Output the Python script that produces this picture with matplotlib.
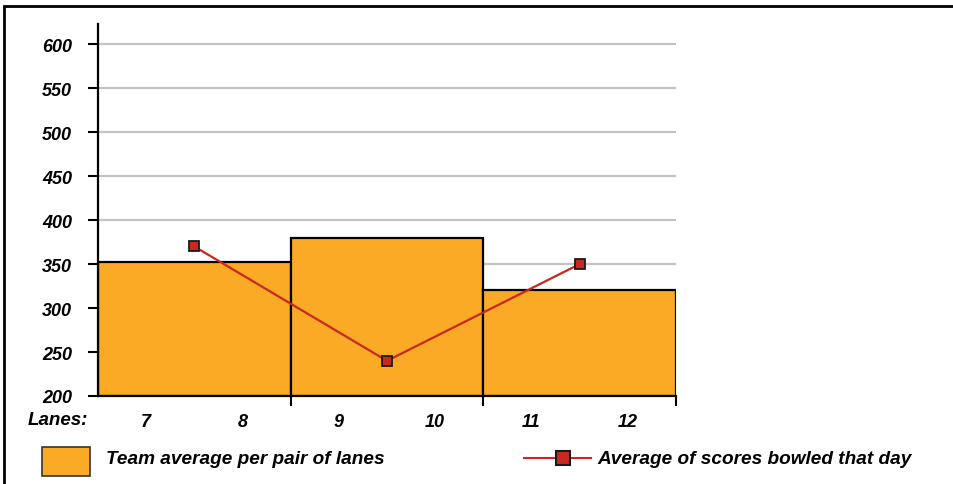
import matplotlib
matplotlib.use("Agg")
import matplotlib.pyplot as plt
from matplotlib.patches import Rectangle
from matplotlib.lines import Line2D
import numpy as np

plt.rcParams['font.family'] = ['Liberation Sans', 'DejaVu Sans']

lane_pairs = ["7-8", "9-10", "11-12"]
team_avg = [352, 380, 320]
day_avg = [370, 240, 350]
lane_labels = ["7", "8", "9", "10", "11", "12"]
y_ticks = [200, 250, 300, 350, 400, 450, 500, 550, 600]
bar_label = "Team average per pair of lanes"
line_label = "Average of scores bowled that day"

BAR_COLOR = "#FBAA25"
LINE_COLOR = "#C8281E"

W, H = 954, 485
fig = plt.figure(figsize=(W / 100, H / 100), dpi=100)
ax = fig.add_axes([98 / W, 1 - 397 / H, (676 - 98) / W, (397 - 25) / H])

x = np.arange(len(lane_pairs))
ax.bar(x, [v - 200 for v in team_avg], bottom=200, width=1.0, color=BAR_COLOR,
       edgecolor="black", linewidth=1.6, zorder=2)
ax.plot(x, day_avg, color=LINE_COLOR, linewidth=1.6, marker="s", markersize=7,
        markerfacecolor=LINE_COLOR, markeredgecolor="#1a1a1a", markeredgewidth=1.3, zorder=3)

ax.set_xlim(-0.5, 2.5)
ax.set_ylim(200, 623)

for yv in y_ticks[1:]:
    ax.axhline(yv, color="#C4C4C4", linewidth=1.6, zorder=1)

TICK_FS = 13
ax.set_yticks(y_ticks)
ax.set_yticklabels([str(v) for v in y_ticks], fontsize=TICK_FS, fontweight="bold", fontstyle="italic")
ax.tick_params(axis="y", length=7.5, width=1.5, pad=11)

ax.set_xticks([0.5, 1.5, 2.5])
ax.set_xticklabels([])
ax.tick_params(axis="x", which="major", length=7.5, width=1.5, direction="out")
label_pos = []
for i in range(len(lane_pairs)):
    label_pos += [i - 0.25, i + 0.25]
ax.set_xticks(label_pos, minor=True)
ax.set_xticklabels(lane_labels, minor=True, fontsize=TICK_FS, fontweight="bold", fontstyle="italic")
ax.tick_params(axis="x", which="minor", length=0, pad=12.5)

for s in ["top", "right"]:
    ax.spines[s].set_visible(False)
ax.spines["left"].set_linewidth(1.6)
ax.spines["bottom"].set_linewidth(1.6)
ax.spines["bottom"].set_zorder(4)

fig.text(88 / W, 1 - 421 / H, "Lanes:", ha="right", va="center", fontsize=13.5,
         fontweight="bold", fontstyle="italic")

# legend
LEG_FS = 13.7
fig.add_artist(Rectangle((42 / W, 1 - 477 / H), 48 / W, 29 / H, transform=fig.transFigure,
                         facecolor=BAR_COLOR, edgecolor="#333333", linewidth=1.2))
fig.text(106 / W, 1 - 460 / H, bar_label, ha="left", va="center", fontsize=LEG_FS,
         fontweight="bold", fontstyle="italic")
fig.add_artist(Line2D([524 / W, 591 / W], [1 - 459 / H, 1 - 459 / H], transform=fig.transFigure,
                      color=LINE_COLOR, linewidth=1.5))
fig.add_artist(Line2D([563 / W], [1 - 459 / H], transform=fig.transFigure, marker="s",
                      markersize=10, markerfacecolor=LINE_COLOR, markeredgecolor="#1a1a1a",
                      markeredgewidth=1.5, linestyle="none"))
fig.text(597 / W, 1 - 460 / H, line_label, ha="left", va="center", fontsize=LEG_FS,
         fontweight="bold", fontstyle="italic")

# outer frame (top and left visible)
fig.add_artist(Rectangle((4 / W, -0.2), 2.0, 1.2 - 6.5 / H, transform=fig.transFigure,
                         facecolor="none", edgecolor="black", linewidth=2))

fig.savefig("out.png", dpi=100)
